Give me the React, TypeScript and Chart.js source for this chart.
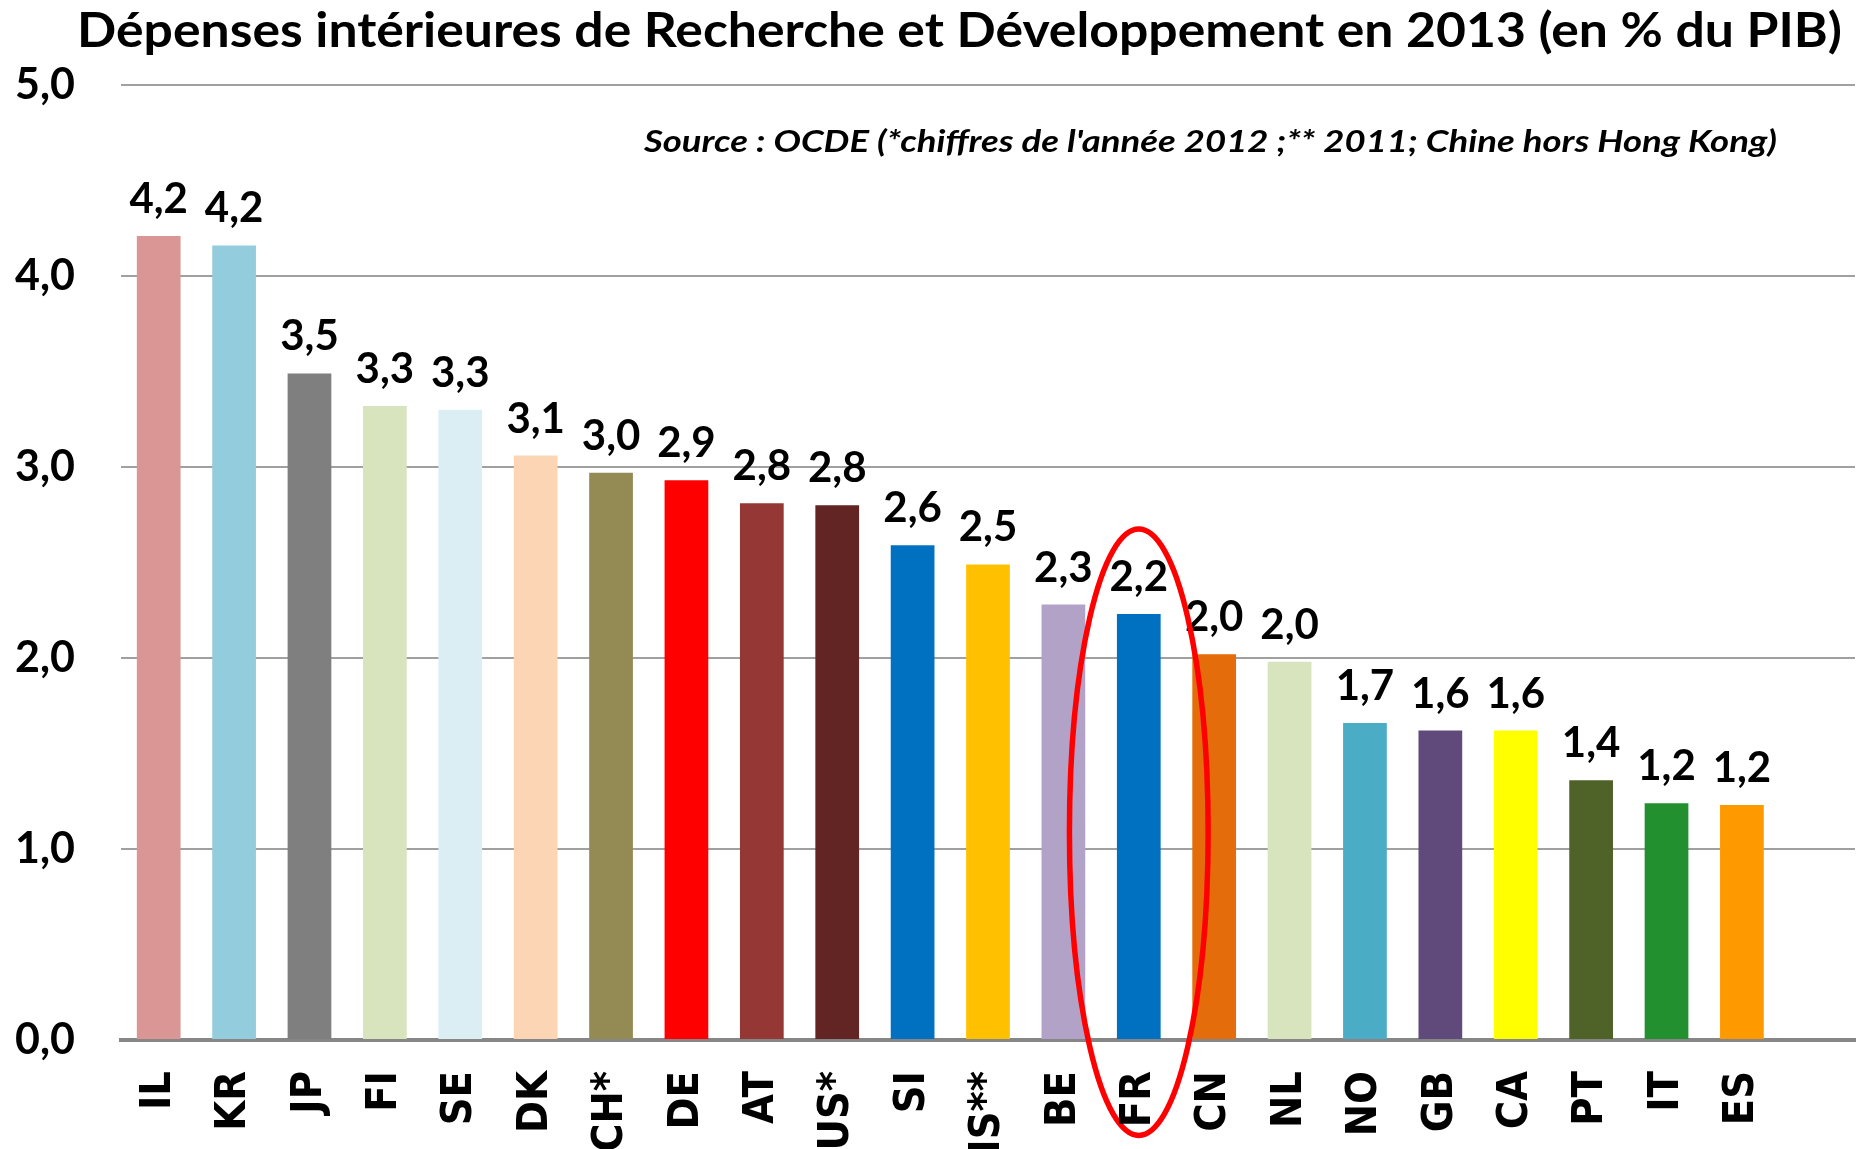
import React, { useEffect, useRef } from "react";
import { Chart, registerables } from "chart.js";

Chart.register(...registerables);

const TITLE = "Dépenses intérieures de Recherche et Développement en 2013 (en % du PIB)";
const SOURCE = "Source : OCDE (*chiffres de l'année 2012 ;** 2011; Chine hors Hong Kong)";

const categories = ["IL", "KR", "JP", "FI", "SE", "DK", "CH*", "DE", "AT", "US*", "SI", "IS**", "BE", "FR", "CN", "NL", "NO", "GB", "CA", "PT", "IT", "ES", ""];
const values = [4.21, 4.16, 3.49, 3.32, 3.30, 3.06, 2.97, 2.93, 2.81, 2.80, 2.59, 2.49, 2.28, 2.23, 2.02, 1.98, 1.66, 1.62, 1.62, 1.36, 1.24, 1.23, null];
const barColors = ["#D99694", "#93CDDD", "#7F7F7F", "#D7E4BD", "#DBEEF4", "#FCD5B5", "#948A54", "#FF0000", "#953735", "#632523", "#0070C0", "#FFC000", "#B3A2C7", "#0070C0", "#E46C0A", "#D7E4BD", "#4BACC6", "#604A7B", "#FFFF00", "#4F6228", "#22902F", "#FF9900", "#FFFFFF"];
const yTicks = [0, 1, 2, 3, 4, 5];
const highlightIndex = 13;
const highlightRange = [-0.5, 2.675];

const fmt = (v: number) => Number(v).toFixed(1).replace(".", ",");

function drawFitted(ctx: CanvasRenderingContext2D, text: string, cx: number, baseline: number, targetWidth: number) {
  const w = ctx.measureText(text).width;
  ctx.save();
  ctx.translate(cx, baseline);
  ctx.scale(targetWidth / w, 1);
  ctx.textAlign = "center";
  ctx.fillText(text, 0, 0);
  ctx.restore();
}

export default function App() {
  const ref = useRef<HTMLCanvasElement | null>(null);

  useEffect(() => {
    if (!ref.current) return;

    const textPlugin = {
      id: "texts",
      afterDraw(chart: any) {
        const ctx = chart.ctx;
        ctx.save();
        ctx.fillStyle = "#000";
        ctx.textBaseline = "alphabetic";
        ctx.font = "bold 47px Lato";
        drawFitted(ctx, TITLE, 959.5, 47, 1765);
        ctx.font = "italic bold 31px Lato";
        drawFitted(ctx, SOURCE, 1210.5, 152, 1133);
        ctx.restore();
      },
    };

    const axisLabelPlugin = {
      id: "xLabels",
      afterDraw(chart: any) {
        const ctx = chart.ctx;
        const xs = chart.scales.x;
        const top = xs.top + 31;
        ctx.save();
        ctx.fillStyle = "#000";
        ctx.font = "bold 43px 'DejaVu Sans Condensed', 'DejaVu Sans'";
        ctx.textAlign = "right";
        ctx.textBaseline = "middle";
        categories.forEach((c, i) => {
          if (!c) return;
          const x = xs.getPixelForValue(i);
          ctx.save();
          ctx.translate(x, top);
          ctx.rotate(-Math.PI / 2);
          ctx.fillText(c, 0, 0);
          ctx.restore();
        });
        ctx.restore();
      },
    };

    const labelPlugin = {
      id: "valueLabels",
      afterDatasetsDraw(chart: any) {
        const ctx = chart.ctx;
        const meta = chart.getDatasetMeta(0);
        ctx.save();
        ctx.fillStyle = "#000";
        ctx.textAlign = "center";
        ctx.textBaseline = "alphabetic";
        ctx.font = "bold 42px Lato";
        meta.data.forEach((bar: any, i: number) => {
          const v = values[i];
          if (v === null || v === undefined) return;
          ctx.fillText(fmt(v), bar.x, bar.y - 23);
        });
        const xs = chart.scales.x;
        const ys = chart.scales.y;
        const cx = xs.getPixelForValue(highlightIndex);
        const step = xs.getPixelForValue(1) - xs.getPixelForValue(0);
        const top = ys.getPixelForValue(highlightRange[1]);
        const bottom = ys.getPixelForValue(highlightRange[0]);
        ctx.beginPath();
        ctx.ellipse(cx, (top + bottom) / 2, step * 0.92, (bottom - top) / 2, 0, 0, Math.PI * 2);
        ctx.strokeStyle = "#FF0000";
        ctx.lineWidth = 5.5;
        ctx.stroke();
        ctx.restore();
      },
    };

    const chart = new Chart(ref.current, {
      type: "bar",
      data: {
        labels: categories,
        datasets: [
          {
            data: values as any,
            backgroundColor: barColors,
            borderWidth: 0,
            barPercentage: 0.58,
            categoryPercentage: 1,
          },
        ],
      },
      options: {
        animation: false,
        responsive: true,
        maintainAspectRatio: false,
        layout: { padding: { top: 85, right: 6, left: 0, bottom: 0 } },
        plugins: {
          legend: { display: false },
          tooltip: { enabled: false },
          title: { display: false },
        },
        scales: {
          x: {
            grid: { display: false, drawTicks: false },
            border: { display: true, color: "#868686", width: 4 },
            ticks: { display: false },
            afterFit: (scale: any) => {
              scale.height = 109;
            },
          },
          y: {
            min: 0,
            max: 5,
            afterBuildTicks: (scale: any) => {
              scale.ticks = yTicks.map((v) => ({ value: v }));
            },
            grid: { color: "#A0A0A0", lineWidth: 2, drawTicks: false },
            border: { display: false },
            ticks: {
              padding: 46,
              color: "#000",
              font: { family: "Lato", weight: "bold", size: 43 },
              callback: (v: any) => fmt(Number(v)),
            },
            afterFit: (scale: any) => {
              scale.width = 121;
            },
          },
        },
      },
      plugins: [labelPlugin, axisLabelPlugin, textPlugin],
    });

    return () => chart.destroy();
  }, []);

  return (
    <div style={{ position: "fixed", left: 0, top: 0, width: 1861, height: 1149, background: "#fff" }}>
      <canvas ref={ref} />
    </div>
  );
}
